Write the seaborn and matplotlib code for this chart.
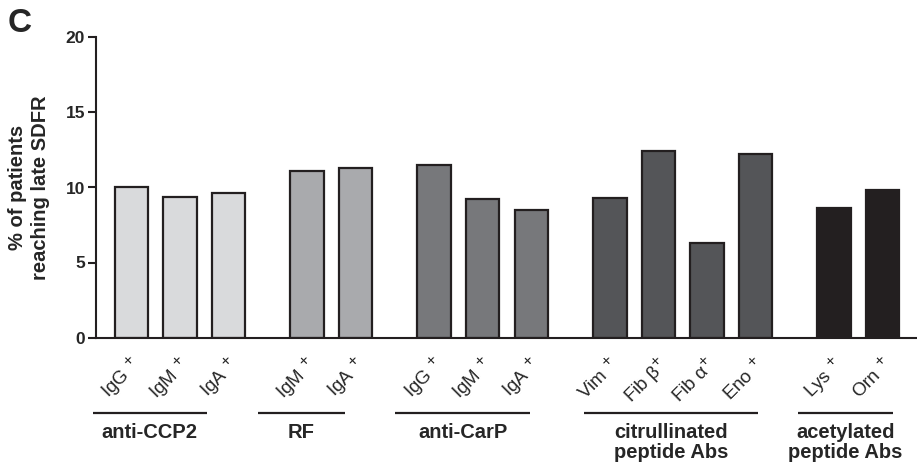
import numpy as np
import pandas as pd
import matplotlib
matplotlib.use("Agg")
import matplotlib.pyplot as plt
import matplotlib.transforms as mtransforms
import matplotlib._mathtext as _mt
import seaborn as sns

_mt.SHRINK_FACTOR = 0.85

# ---- data ----
groups = ["anti-CCP2", "RF", "anti-CarP", "citrullinated\npeptide Abs", "acetylated\npeptide Abs"]
ccp2_labels = ["IgG$^{\\,+}$", "IgM$^{\\,+}$", "IgA$^{\\,+}$"]
ccp2_values = [10.0, 9.35, 9.65]
rf_labels = ["IgM$^{\\,+}$", "IgA$^{\\,+}$"]
rf_values = [11.1, 11.3]
carp_labels = ["IgG$^{\\,+}$", "IgM$^{\\,+}$", "IgA$^{\\,+}$"]
carp_values = [11.5, 9.2, 8.5]
cit_labels = ["Vim$^{\\,+}$", "Fib β$^{+}$", "Fib α$^{+}$", "Eno$^{\\,+}$"]
cit_values = [9.3, 12.4, 6.3, 12.2]
acet_labels = ["Lys$^{\\,+}$", "Orn$^{\\,+}$"]
acet_values = [8.65, 9.85]

group_labels = [ccp2_labels, rf_labels, carp_labels, cit_labels, acet_labels]
group_values = [ccp2_values, rf_values, carp_values, cit_values, acet_values]
colors = ["#d9dadc", "#a9aaad", "#77787b", "#545558", "#231f20"]
edge = "#231f20"

# ---- layout ----
GAP = 0.62
rows = []
pos = 0.0
group_pos = []
for g, labs, vals in zip(groups, group_labels, group_values):
    ps = []
    for lab, v in zip(labs, vals):
        rows.append({"x": pos, "value": v, "group": g, "label": lab})
        ps.append(pos)
        pos += 1
    group_pos.append(ps)
    pos += GAP
df = pd.DataFrame(rows)

sns.set_style("ticks")
plt.rcParams["font.family"] = ["Liberation Sans", "DejaVu Sans"]
plt.rcParams["mathtext.fontset"] = "custom"
plt.rcParams["mathtext.rm"] = "Liberation Sans"
plt.rcParams["mathtext.default"] = "regular"

fig = plt.figure(figsize=(9.17, 4.68), dpi=100)
ax = fig.add_axes([96/917, 130.5/468, 821/917, 300/468])

sns.barplot(data=df, x="x", y="value", hue="group", palette=colors,
            native_scale=True, dodge=False, width=0.69, legend=False,
            edgecolor=edge, linewidth=1.6, saturation=1, ax=ax)

ax.set_xlim(-0.73, df["x"].iloc[-1] + 0.71)
ax.set_ylim(0, 20)
ax.set_yticks([0, 5, 10, 15, 20])
ax.set_yticklabels(["0", "5", "10", "15", "20"], fontweight="bold", fontsize=12.5)
ax.tick_params(axis="y", length=6, width=1.5, color=edge, pad=2)
ax.set_xticks(df["x"].tolist())
ax.set_xticklabels(df["label"].tolist(), rotation=45, ha="right", va="center",
                   rotation_mode="anchor", fontsize=13.5)
ax.tick_params(axis="x", length=0, pad=19)
off = mtransforms.ScaledTranslation(6/100, 2/100, fig.dpi_scale_trans)
for lab in ax.get_xticklabels():
    lab.set_transform(lab.get_transform() + off)
for s in ["top", "right"]:
    ax.spines[s].set_visible(False)
for s in ["left", "bottom"]:
    ax.spines[s].set_linewidth(1.5)
    ax.spines[s].set_color(edge)
ax.set_xlabel("")
ax.set_ylabel("% of patients\nreaching late SDFR", fontweight="bold", fontsize=14.5,
              linespacing=1.25)
ax.yaxis.set_label_coords(-0.056, 0.5)

# group brackets
line_off = [(-0.79, -0.45), (-1.02, -0.22), (-0.80, -0.02), (-0.53, 0.06), (-0.74, 0.22)]
trans = mtransforms.blended_transform_factory(ax.transData, ax.transAxes)
for g, ps, (a, b) in zip(groups, group_pos, line_off):
    x0, x1 = ps[0] + a, ps[-1] + b
    ax.plot([x0, x1], [-0.252, -0.252], color=edge, lw=1.6, transform=trans,
            clip_on=False, solid_capstyle="butt")
    ax.text((x0 + x1) / 2, -0.285, g, transform=trans, ha="center", va="top",
            fontweight="bold", fontsize=14.5, linespacing=1.1)

fig.text(8/917, 1 - 8/468, "C", fontsize=24, fontweight="bold", va="top", ha="left")

fig.savefig("out.png", dpi=100)
